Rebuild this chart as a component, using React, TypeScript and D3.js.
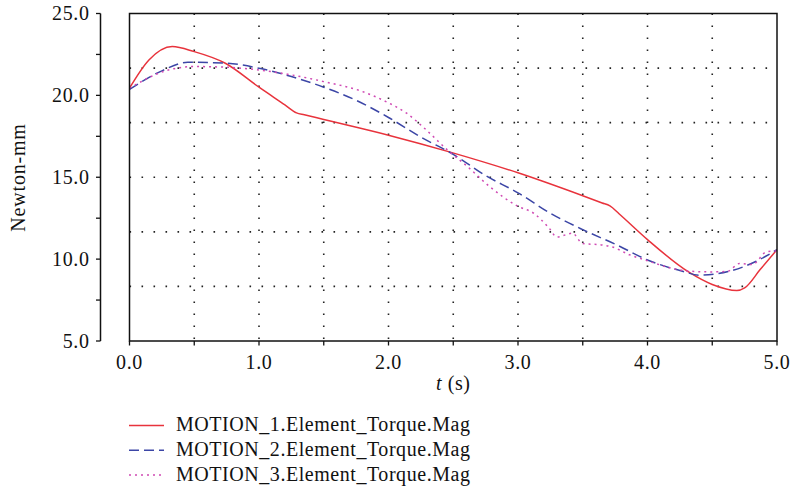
import React from "react";
import * as d3 from "d3";

const W = 792;
const H = 492;

const yTicksMajor = [5, 10, 15, 20, 25];
const yTicksMinor = [7.5, 12.5, 17.5, 22.5];
const xTicksMajor = [0, 1, 2, 3, 4, 5];
const xTicksAll = [0, 0.5, 1, 1.5, 2, 2.5, 3, 3.5, 4, 4.5, 5];

const seriesNames = [
  "MOTION_1.Element_Torque.Mag",
  "MOTION_2.Element_Torque.Mag",
  "MOTION_3.Element_Torque.Mag",
];

const t1 = [0, 0.15, 0.33, 0.5, 0.74, 1.0, 1.2, 1.29, 1.35, 1.5, 2.0, 2.47, 3.0, 3.5, 3.65, 3.71, 3.78, 4.0, 4.32, 4.5, 4.69, 4.75, 4.87, 5.0];
const v1 = [20.44, 22.16, 22.98, 22.67, 21.96, 20.5, 19.42, 18.93, 18.82, 18.53, 17.57, 16.55, 15.27, 13.87, 13.43, 13.25, 12.77, 11.19, 9.2, 8.45, 8.08, 8.24, 9.36, 10.58];

const t2 = [0, 0.25, 0.45, 0.75, 1.0, 1.25, 1.5, 1.75, 2.0, 2.25, 2.5, 2.75, 3.0, 3.25, 3.5, 3.76, 4.0, 4.27, 4.4, 4.66, 4.84, 5.0];
const v2 = [20.36, 21.5, 22.02, 21.96, 21.66, 21.15, 20.5, 19.7, 18.65, 17.45, 16.4, 15.1, 14.05, 12.8, 11.8, 10.88, 9.95, 9.26, 9.02, 9.32, 9.87, 10.58];

const t3 = [0, 0.3, 0.5, 0.75, 1.0, 1.25, 1.5, 1.8, 1.98, 2.14, 2.29, 2.45, 2.6, 2.78, 3.0, 3.12, 3.24, 3.3, 3.42, 3.5, 3.63, 3.73, 3.86, 4.0, 4.15, 4.33, 4.5, 4.62, 4.71, 4.81, 4.92, 5.0];
const v3 = [20.44, 21.55, 21.76, 21.72, 21.55, 21.25, 20.84, 20.23, 19.62, 18.91, 17.9, 16.7, 15.72, 14.44, 13.22, 12.81, 11.9, 11.35, 11.58, 10.95, 10.88, 10.74, 10.27, 9.9, 9.52, 9.26, 9.22, 9.26, 9.73, 9.67, 10.45, 10.5];

const colors = ["#e8333c", "#3c46a6", "#d04ab4"];
const dashes = ["none", "10,5", "2,4"];

const FONT = "'Liberation Serif', 'Times New Roman', serif";

export default function App() {
  const left = 129.5;
  const right = 777;
  const top = 13.5;
  const bottom = 341;
  const axisX = 100.5;

  const x = d3.scaleLinear().domain([0, 5]).range([left, right]);
  const y = d3.scaleLinear().domain([5, 25]).range([bottom, top]);

  const line = d3
    .line<[number, number]>()
    .x((d) => x(d[0]))
    .y((d) => y(d[1]))
    .curve(d3.curveMonotoneX);

  const series = [
    t1.map((t, i) => [t, v1[i]] as [number, number]),
    t2.map((t, i) => [t, v2[i]] as [number, number]),
    t3.map((t, i) => [t, v3[i]] as [number, number]),
  ];

  const hGrid = d3.range(1, 6).map((k) => top + ((bottom - top) * k) / 6);
  const vGrid = xTicksAll.slice(1, -1);

  const fs = 20;

  return (
    <svg
      width={W}
      height={H}
      style={{ position: "absolute", left: 0, top: 0, background: "#fff" }}
      fontFamily={FONT}
    >
      <rect x={0} y={0} width={W} height={H} fill="#fff" />
      {/* grid */}
      {hGrid.map((gy, i) => (
        <line
          key={"h" + i}
          x1={left}
          x2={right}
          y1={gy}
          y2={gy}
          stroke="#222"
          strokeWidth={1.6}
          strokeDasharray="1.6,10.4"
        />
      ))}
      {vGrid.map((gx, i) => (
        <line
          key={"v" + i}
          x1={x(gx)}
          x2={x(gx)}
          y1={top}
          y2={bottom}
          stroke="#222"
          strokeWidth={1.6}
          strokeDasharray="1.6,10.4"
        />
      ))}

      <defs>
        <clipPath id="clip">
          <rect x={left} y={top} width={right - left} height={bottom - top} />
        </clipPath>
      </defs>

      {/* data lines */}
      <g clipPath="url(#clip)">
        {series.map((s, i) => (
          <path
            key={"s" + i}
            d={line(s) || ""}
            fill="none"
            stroke={colors[i]}
            strokeWidth={1.5}
            strokeDasharray={dashes[i]}
          />
        ))}
      </g>

      {/* plot frame */}
      <rect
        x={left}
        y={top}
        width={right - left}
        height={bottom - top}
        fill="none"
        stroke="#111"
        strokeWidth={1.5}
      />

      {/* left y axis */}
      <line x1={axisX} x2={axisX} y1={y(25)} y2={y(5)} stroke="#111" strokeWidth={1.5} />
      {[...yTicksMajor, ...yTicksMinor].map((v, i) => (
        <line
          key={"yt" + i}
          x1={axisX - 4.5}
          x2={axisX}
          y1={y(v)}
          y2={y(v)}
          stroke="#111"
          strokeWidth={1.3}
        />
      ))}
      {yTicksMajor.map((v, i) => (
        <text
          key={"yl" + i}
          x={89.5}
          y={y(v) + 6.8}
          textAnchor="end"
          fontSize={fs}
          fill="#111"
          letterSpacing={0.6}
        >
          {v.toFixed(1)}
        </text>
      ))}

      {/* bottom x ticks */}
      {xTicksAll.map((v, i) => (
        <line
          key={"xt" + i}
          x1={x(v)}
          x2={x(v)}
          y1={bottom}
          y2={bottom + 4.5}
          stroke="#111"
          strokeWidth={1.3}
        />
      ))}
      {xTicksMajor.map((v, i) => (
        <text
          key={"xl" + i}
          x={x(v)}
          y={369}
          textAnchor="middle"
          fontSize={fs}
          fill="#111"
          letterSpacing={0.6}
        >
          {v.toFixed(1)}
        </text>
      ))}

      {/* axis titles */}
      <text
        x={(left + right) / 2}
        y={390}
        textAnchor="middle"
        fontSize={fs}
        fill="#111"
        letterSpacing={0.6}
      >
        <tspan fontStyle="italic">t</tspan> (s)
      </text>
      <text
        transform={`translate(25,177.5) rotate(-90)`}
        textAnchor="middle"
        fontSize={fs}
        fill="#111"
        letterSpacing={0.8}
      >
        Newton-mm
      </text>

      {/* legend */}
      {seriesNames.map((name, i) => {
        const ly = 425.5 + i * 24.8;
        return (
          <g key={"lg" + i}>
            <line
              x1={129}
              x2={164}
              y1={ly}
              y2={ly}
              stroke={colors[i]}
              strokeWidth={1.5}
              strokeDasharray={dashes[i]}
            />
            <text x={176} y={ly + 5.5} fontSize={fs} fill="#111" letterSpacing={0.55}>
              {name}
            </text>
          </g>
        );
      })}
    </svg>
  );
}
